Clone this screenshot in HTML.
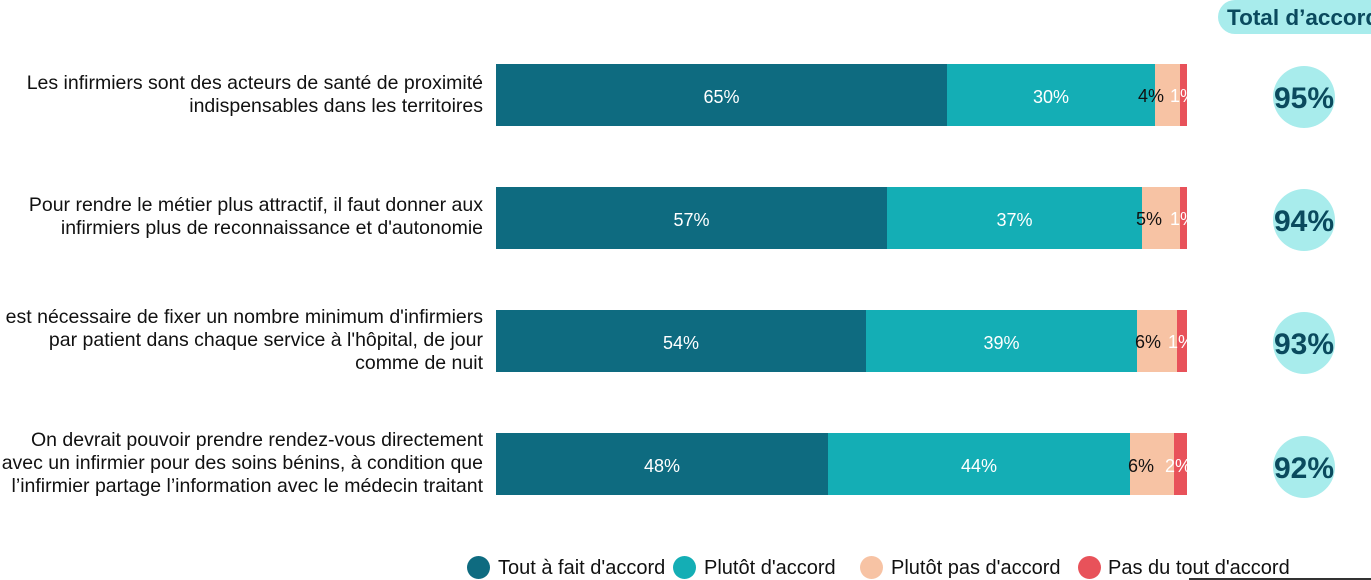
<!DOCTYPE html>
<html><head><meta charset="utf-8"><style>
body{margin:0;width:1371px;height:580px;overflow:hidden;background:#fff;font-family:"Liberation Sans",sans-serif;position:relative}
.a{position:absolute}
.lab{position:absolute;right:888px;text-align:right;font-size:19.5px;line-height:23px;color:#111;white-space:nowrap}
.seg{position:absolute;height:62px;display:flex;align-items:center;justify-content:center;font-size:18px;color:#fff;overflow:hidden;white-space:nowrap;padding-top:4px;box-sizing:border-box}
.c{position:absolute;width:62px;height:62px;border-radius:50%;background:#a8ecec;color:#0a4a5e;font-weight:bold;font-size:30px;display:flex;align-items:center;justify-content:center;padding-top:3px;box-sizing:border-box}
.lg{position:absolute;top:556px;width:23px;height:23px;border-radius:50%}
.lt{position:absolute;top:557px;font-size:20px;color:#111}
.s{position:absolute;font-size:18px}
</style></head><body>
<div class="a" style="left:1218px;top:0;width:170px;height:34px;border-radius:17px;background:#a8ecec;color:#0a4a5e;font-weight:bold;font-size:22.5px;line-height:36px;padding-left:9px;white-space:nowrap">Total d’accord</div>

<div class="lab" style="top:72px">Les infirmiers sont des acteurs de santé de proximité<br>indispensables dans les territoires</div>
<div class="lab" style="top:194px">Pour rendre le métier plus attractif, il faut donner aux<br>infirmiers plus de reconnaissance et d'autonomie</div>
<div class="lab" style="top:306px">Il est nécessaire de fixer un nombre minimum d'infirmiers<br>par patient dans chaque service à l'hôpital, de jour<br>comme de nuit</div>
<div class="lab" style="top:429px">On devrait pouvoir prendre rendez-vous directement<br>avec un infirmier pour des soins bénins, à condition que<br>l’infirmier partage l’information avec le médecin traitant</div>

<div class="seg" style="top:64px;left:496px;width:451px;background:#0e6b80">65%</div>
<div class="seg" style="top:64px;left:947px;width:208px;background:#14aeb5">30%</div>
<div class="seg" style="top:64px;left:1155px;width:25px;background:#f7c3a4"></div>
<div class="seg" style="top:64px;left:1180px;width:7px;background:#e8525a"></div>
<div class="s" style="top:86px;left:1138px;color:#111">4%</div>
<div class="s" style="top:86px;left:1170px;color:#fff;width:17px;overflow:hidden">1%</div>

<div class="seg" style="top:187px;left:496px;width:391px;background:#0e6b80">57%</div>
<div class="seg" style="top:187px;left:887px;width:255px;background:#14aeb5">37%</div>
<div class="seg" style="top:187px;left:1142px;width:38px;background:#f7c3a4"></div>
<div class="seg" style="top:187px;left:1180px;width:7px;background:#e8525a"></div>
<div class="s" style="top:209px;left:1136px;color:#111">5%</div>
<div class="s" style="top:209px;left:1170px;color:#fff;width:17px;overflow:hidden">1%</div>

<div class="seg" style="top:310px;left:496px;width:370px;background:#0e6b80">54%</div>
<div class="seg" style="top:310px;left:866px;width:271px;background:#14aeb5">39%</div>
<div class="seg" style="top:310px;left:1137px;width:40px;background:#f7c3a4"></div>
<div class="seg" style="top:310px;left:1177px;width:10px;background:#e8525a"></div>
<div class="s" style="top:332px;left:1135px;color:#111">6%</div>
<div class="s" style="top:332px;left:1168px;color:#fff;width:19px;overflow:hidden">1%</div>

<div class="seg" style="top:433px;left:496px;width:332px;background:#0e6b80">48%</div>
<div class="seg" style="top:433px;left:828px;width:302px;background:#14aeb5">44%</div>
<div class="seg" style="top:433px;left:1130px;width:44px;background:#f7c3a4"></div>
<div class="seg" style="top:433px;left:1174px;width:13px;background:#e8525a"></div>
<div class="s" style="top:456px;left:1128px;color:#111">6%</div>
<div class="s" style="top:456px;left:1165px;color:#fff;width:22px;overflow:hidden">2%</div>

<div class="c" style="left:1273px;top:66px">95%</div>
<div class="c" style="left:1273px;top:189px">94%</div>
<div class="c" style="left:1273px;top:312px">93%</div>
<div class="c" style="left:1273px;top:436px">92%</div>

<div class="lg" style="left:467px;background:#0e6b80"></div><div class="lt" style="left:498px">Tout à fait d'accord</div>
<div class="lg" style="left:673px;background:#14aeb5"></div><div class="lt" style="left:704px">Plutôt d'accord</div>
<div class="lg" style="left:860px;background:#f7c3a4"></div><div class="lt" style="left:891px">Plutôt pas d'accord</div>
<div class="lg" style="left:1078px;background:#e8525a"></div><div class="lt" style="left:1108px">Pas du tout d'accord</div>
<div class="a" style="left:1189px;top:578px;width:182px;height:2px;background:#333"></div>
</body></html>
